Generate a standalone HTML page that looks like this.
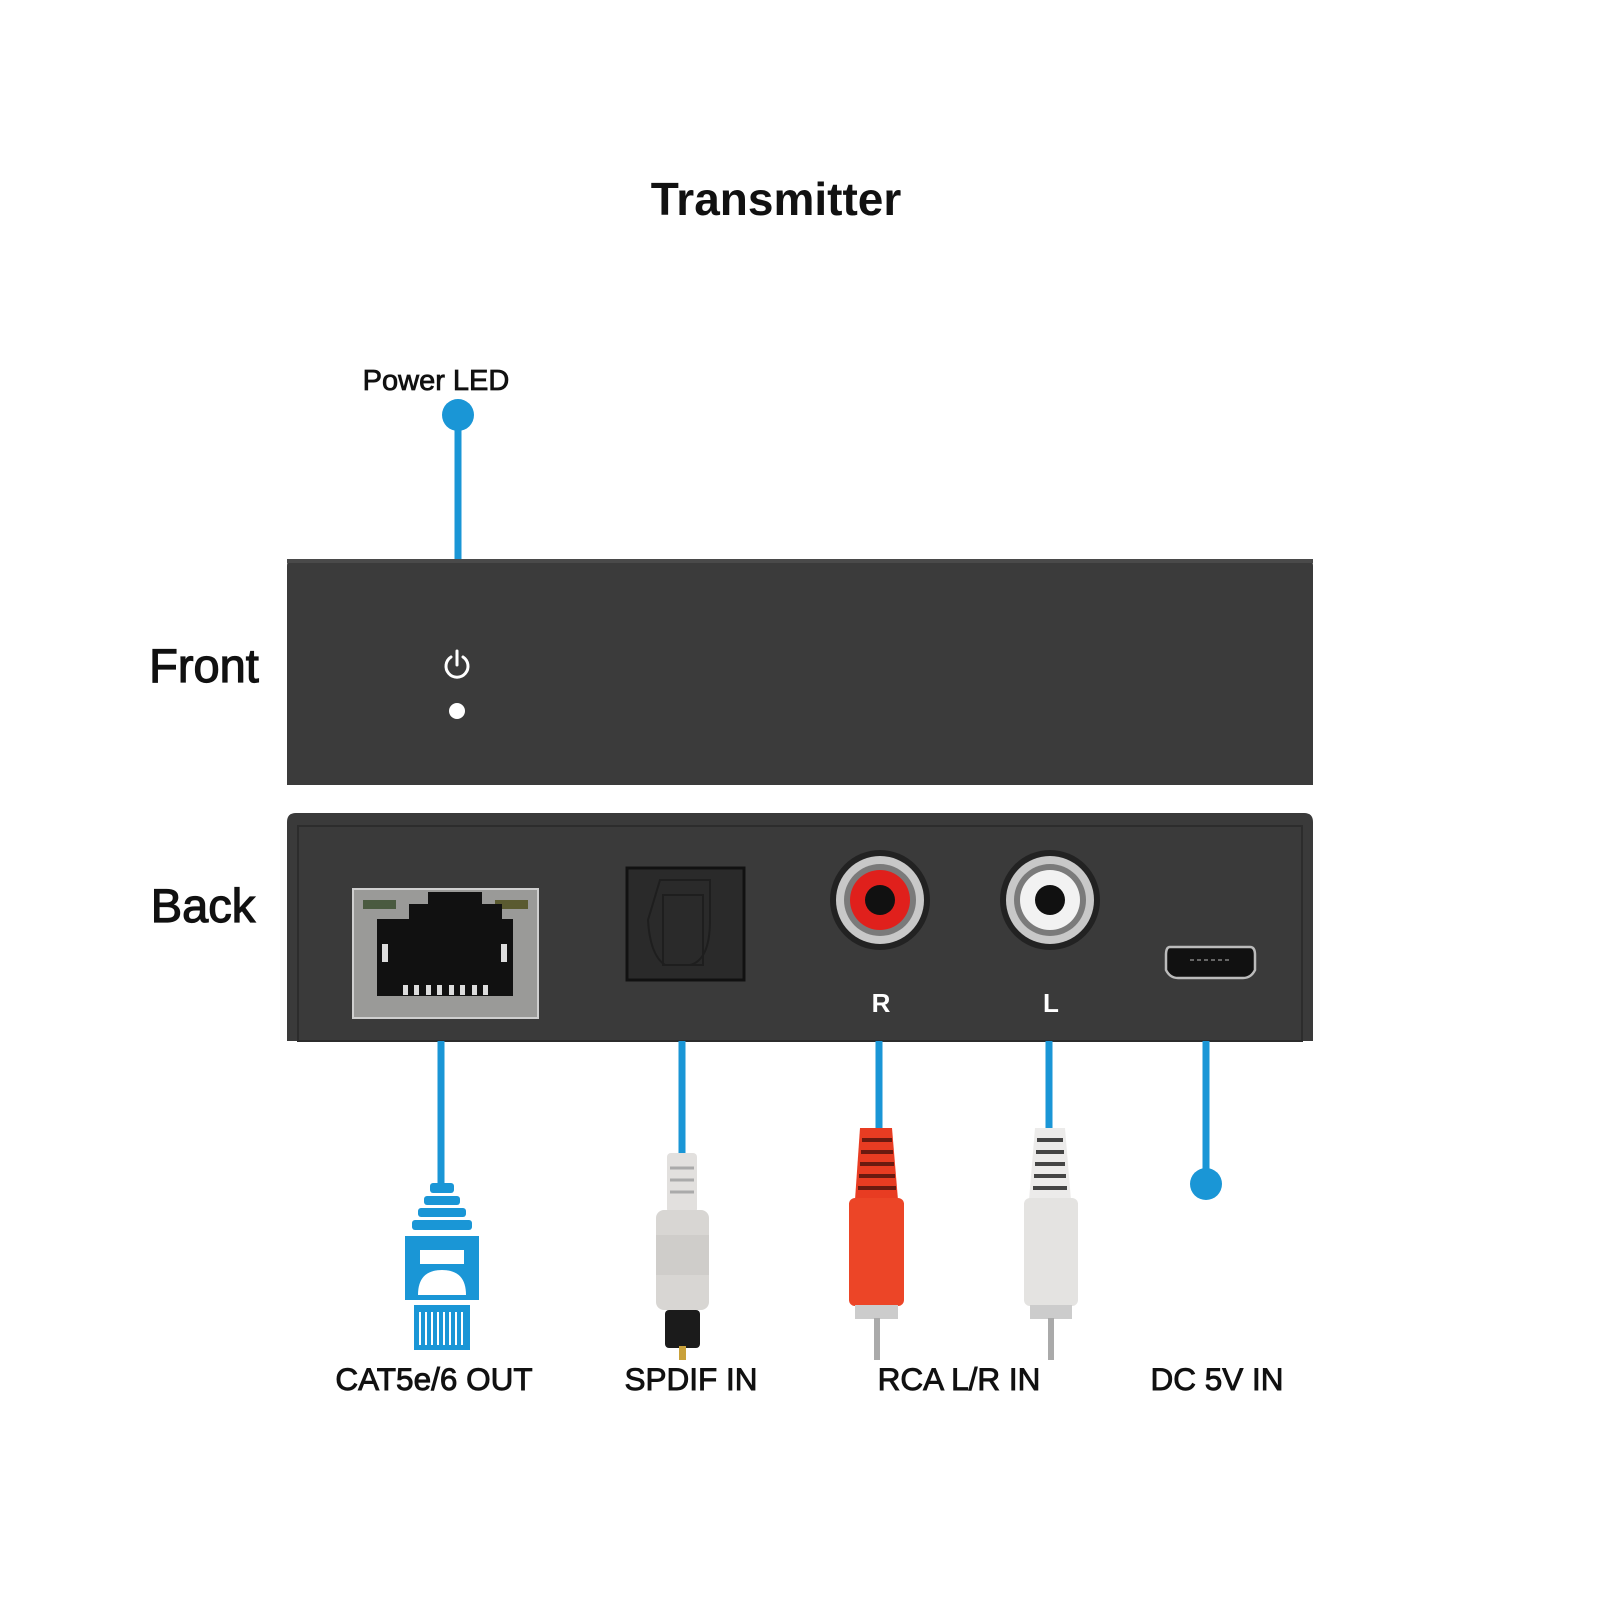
<!DOCTYPE html>
<html><head><meta charset="utf-8"><style>
html,body{margin:0;padding:0;background:#fff}
svg{display:block}
text{font-family:"Liberation Sans",Arial,sans-serif}
</style></head><body>
<svg width="1600" height="1600" viewBox="0 0 1600 1600" xmlns="http://www.w3.org/2000/svg">
<rect width="1600" height="1600" fill="#fff"/>
<text x="776" y="215" font-size="46" text-anchor="middle" fill="#111" font-weight="bold">Transmitter</text>
<text x="436" y="390" font-size="29" text-anchor="middle" fill="#111" stroke="#111" stroke-width="0.8">Power LED</text>
<line x1="458" y1="415" x2="458" y2="560" stroke="#1a96d6" stroke-width="7"/>
<circle cx="458" cy="415" r="16" fill="#1a96d6"/>
<text x="204" y="682" font-size="47" text-anchor="middle" fill="#111" stroke="#111" stroke-width="1.2">Front</text>
<text x="203" y="922" font-size="47" text-anchor="middle" fill="#111" stroke="#111" stroke-width="1.2">Back</text>
<!-- front box -->
<path d="M287 566 Q287 559 294 559 L1306 559 Q1313 559 1313 566 L1313 785 L287 785 Z" fill="#3b3b3b"/>
<rect x="287" y="559" width="1026" height="4" fill="#4a4a4a"/>
<g stroke="#fff" stroke-width="3" fill="none" stroke-linecap="round">
<path d="M451 657 A11 11 0 1 0 463 657"/>
<line x1="457" y1="651" x2="457" y2="665"/>
</g>
<circle cx="457" cy="711" r="8" fill="#fff"/>
<!-- back box -->
<path d="M287 822 Q287 813 296 813 L1304 813 Q1313 813 1313 822 L1313 1041 L287 1041 Z" fill="#3a3a3a"/>
<rect x="298" y="826" width="1004" height="215" fill="none" stroke="#2c2c2c" stroke-width="2"/>
<!-- RJ45 -->
<rect x="353" y="889" width="185" height="129" fill="#9a9a98" stroke="#cfcfcf" stroke-width="2"/>
<rect x="363" y="900" width="33" height="9" fill="#4a5a40"/>
<rect x="495" y="900" width="33" height="9" fill="#5a5a30"/>
<path d="M377 919 L409 919 L409 904 L428 904 L428 892 L482 892 L482 904 L502 904 L502 919 L513 919 L513 996 L377 996 Z" fill="#111"/>
<g fill="#ddd"><rect x="382" y="944" width="6" height="18"/><rect x="501" y="944" width="6" height="18"/>
<rect x="403" y="985" width="5" height="10"/><rect x="414" y="985" width="5" height="10"/><rect x="426" y="985" width="5" height="10"/><rect x="437" y="985" width="5" height="10"/><rect x="449" y="985" width="5" height="10"/><rect x="460" y="985" width="5" height="10"/><rect x="472" y="985" width="5" height="10"/><rect x="483" y="985" width="5" height="10"/></g>
<!-- optical -->
<rect x="627" y="868" width="117" height="112" fill="#2a2a2a" stroke="#111" stroke-width="3"/>
<path d="M660 880 L710 880 L710 920 Q710 960 690 965 L665 965 Q650 955 648 920 Z" fill="none" stroke="#1e1e1e" stroke-width="2"/>
<rect x="663" y="895" width="40" height="70" fill="none" stroke="#1e1e1e" stroke-width="2"/>
<!-- RCA -->
<circle cx="880" cy="900" r="50" fill="#222"/>
<circle cx="880" cy="900" r="44" fill="#c8c8c8"/>
<circle cx="880" cy="900" r="36" fill="#7a7a7a"/>
<circle cx="880" cy="900" r="30" fill="#e0201c"/>
<circle cx="880" cy="900" r="15" fill="#111"/>
<circle cx="1050" cy="900" r="50" fill="#222"/>
<circle cx="1050" cy="900" r="44" fill="#c8c8c8"/>
<circle cx="1050" cy="900" r="36" fill="#7a7a7a"/>
<circle cx="1050" cy="900" r="30" fill="#f2f2f2"/>
<circle cx="1050" cy="900" r="15" fill="#111"/>
<text x="881" y="1012" font-size="26" text-anchor="middle" fill="#fff" font-weight="bold">R</text>
<text x="1051" y="1012" font-size="26" text-anchor="middle" fill="#fff" font-weight="bold">L</text>
<!-- micro usb -->
<path d="M1170 947 L1250 947 Q1255 947 1255 955 L1255 970 Q1251 978 1243 978 L1178 978 Q1170 978 1166 970 L1166 955 Q1166 947 1170 947 Z" fill="#111" stroke="#bbb" stroke-width="2.5"/>
<line x1="1190" y1="960" x2="1230" y2="960" stroke="#666" stroke-width="2" stroke-dasharray="4 3"/>
<!-- connector lines -->
<g stroke="#1a96d6" stroke-width="7">
<line x1="441" y1="1041" x2="441" y2="1185"/>
<line x1="682" y1="1041" x2="682" y2="1155"/>
<line x1="879" y1="1041" x2="879" y2="1130"/>
<line x1="1049" y1="1041" x2="1049" y2="1130"/>
<line x1="1206" y1="1041" x2="1206" y2="1184"/>
</g>
<circle cx="1206" cy="1184" r="16" fill="#1a96d6"/>
<!-- RJ45 plug -->
<g fill="#1a96d6">
<rect x="430" y="1183" width="24" height="10" rx="3"/>
<rect x="424" y="1196" width="36" height="9" rx="3"/>
<rect x="418" y="1208" width="48" height="9" rx="3"/>
<rect x="412" y="1220" width="60" height="10" rx="3"/>
<path d="M405 1236 L479 1236 L479 1300 L405 1300 Z"/>
<rect x="414" y="1305" width="56" height="45"/>
</g>
<rect x="420" y="1250" width="44" height="14" fill="#fff"/>
<path d="M418 1295 Q418 1270 442 1270 Q466 1270 466 1295 Z" fill="#fff"/>
<g stroke="#fff" stroke-width="2"><line x1="420" y1="1312" x2="420" y2="1345"/><line x1="426" y1="1312" x2="426" y2="1345"/><line x1="432" y1="1312" x2="432" y2="1345"/><line x1="438" y1="1312" x2="438" y2="1345"/><line x1="444" y1="1312" x2="444" y2="1345"/><line x1="450" y1="1312" x2="450" y2="1345"/><line x1="456" y1="1312" x2="456" y2="1345"/><line x1="462" y1="1312" x2="462" y2="1345"/></g>
<!-- optical plug -->
<rect x="667" y="1153" width="30" height="60" rx="4" fill="#e2e0de"/>
<g stroke="#aaa" stroke-width="3"><line x1="670" y1="1168" x2="694" y2="1168"/><line x1="670" y1="1180" x2="694" y2="1180"/><line x1="670" y1="1192" x2="694" y2="1192"/></g>
<rect x="656" y="1210" width="53" height="100" rx="8" fill="#d8d6d3"/>
<rect x="656" y="1235" width="53" height="40" fill="#cfcdca"/>
<rect x="665" y="1310" width="35" height="38" rx="4" fill="#1b1b1b"/>
<rect x="679" y="1346" width="7" height="14" fill="#c9a13a"/>
<!-- red RCA -->
<path d="M860 1128 L892 1128 L898 1200 L855 1200 Z" fill="#e83c22"/>
<g stroke="#6a1a10" stroke-width="4"><line x1="862" y1="1140" x2="892" y2="1140"/><line x1="861" y1="1152" x2="893" y2="1152"/><line x1="860" y1="1164" x2="894" y2="1164"/><line x1="859" y1="1176" x2="895" y2="1176"/><line x1="858" y1="1188" x2="896" y2="1188"/></g>
<rect x="849" y="1198" width="55" height="108" rx="6" fill="#ec4527"/>
<rect x="855" y="1305" width="43" height="14" fill="#ccc"/>
<rect x="874" y="1318" width="6" height="42" fill="#aaa"/>
<!-- white RCA -->
<path d="M1035 1128 L1065 1128 L1071 1200 L1029 1200 Z" fill="#ecebea"/>
<g stroke="#444" stroke-width="4"><line x1="1037" y1="1140" x2="1063" y2="1140"/><line x1="1036" y1="1152" x2="1064" y2="1152"/><line x1="1035" y1="1164" x2="1065" y2="1164"/><line x1="1034" y1="1176" x2="1066" y2="1176"/><line x1="1033" y1="1188" x2="1067" y2="1188"/></g>
<rect x="1024" y="1198" width="54" height="108" rx="6" fill="#e4e3e1"/>
<rect x="1030" y="1305" width="42" height="14" fill="#ccc"/>
<rect x="1048" y="1318" width="6" height="42" fill="#aaa"/>
<!-- labels -->
<g font-size="31.5" fill="#111" stroke="#111" stroke-width="0.9" text-anchor="middle">
<text x="434" y="1390">CAT5e/6 OUT</text>
<text x="691" y="1390">SPDIF IN</text>
<text x="959" y="1390">RCA L/R IN</text>
<text x="1217" y="1390">DC 5V IN</text>
</g>
</svg>
</body></html>
